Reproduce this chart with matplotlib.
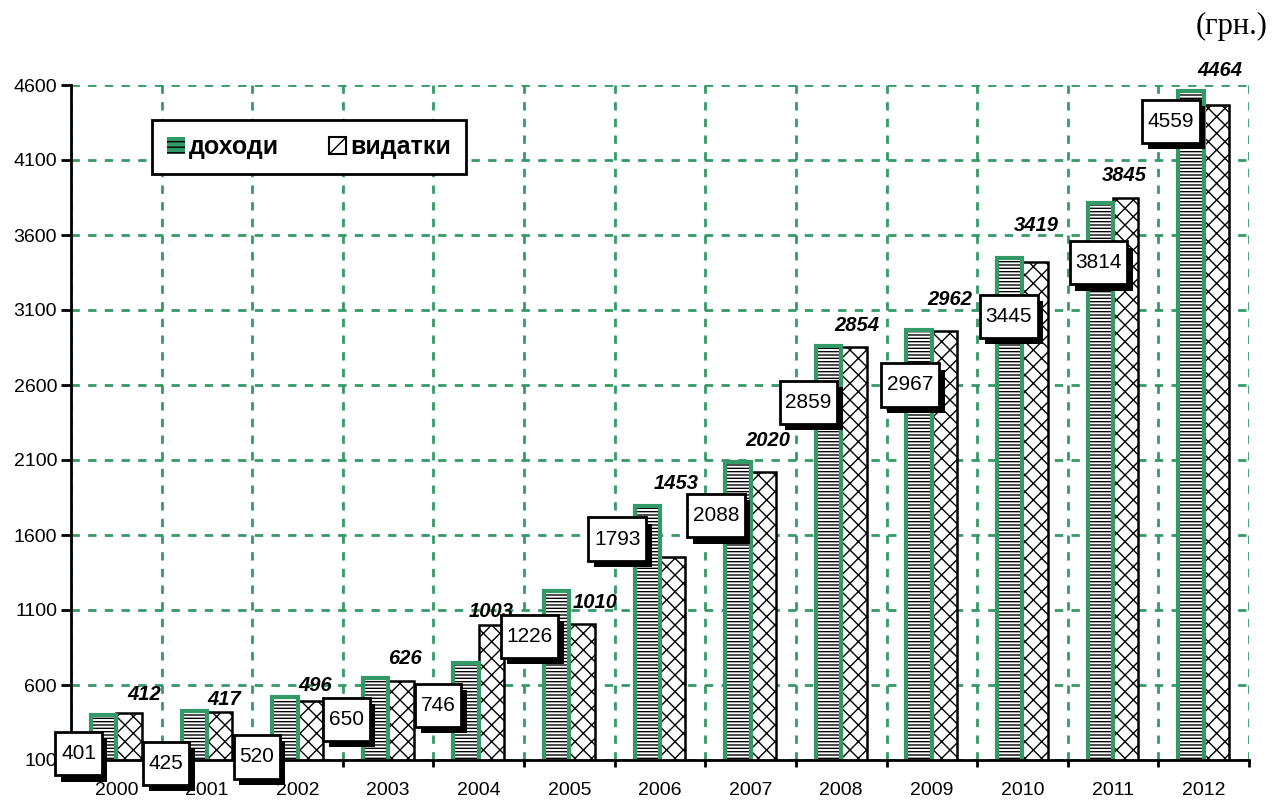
import numpy as np
import matplotlib
matplotlib.use("Agg")
import matplotlib.pyplot as plt
from matplotlib.patches import Patch
from matplotlib.path import Path
import matplotlib.patheffects as pe

plt.rcParams['font.family'] = ['Liberation Sans', 'DejaVu Sans']
plt.rcParams['hatch.linewidth'] = 1.0

# data
years = ['2000', '2001', '2002', '2003', '2004', '2005', '2006',
         '2007', '2008', '2009', '2010', '2011', '2012']
income = [401, 425, 520, 650, 746, 1226, 1793, 2088, 2859, 2967, 3445, 3814, 4559]
expenses = [412, 417, 496, 626, 1003, 1010, 1453, 2020, 2854, 2962, 3419, 3845, 4464]
yticks = list(range(100, 4601, 500))

# label placement (pixels, relative to bar top)
inc_dx = [-25, -28, -28, -29, -28, -27, -30, -22, -20, -9, -1, -2, -20]
inc_dy = [-39, -52, -60, -42, -42, -45, -33, -54, -56, -55, -58, -60, -30]
exp_dx = [15, 5, 5, 4, 0, 13, 3, 5, 3, 5, 1, -1, 3]
exp_dy = [19, 13, 15, 23, 13, 21, 74, 31, 21, 31, 37, 23, 35]

green = '#339966'
x = np.arange(len(years))
w = 0.28


def tall_box(x0, y0, width, height, mutation_scale):
    # square box with more padding top/bottom than left/right
    px = 0.27 * mutation_scale
    py = 0.58 * mutation_scale
    return Path([(x0 - px, y0 - py), (x0 + width + px, y0 - py),
                 (x0 + width + px, y0 + height + py), (x0 - px, y0 + height + py),
                 (x0 - px, y0 - py)], closed=True)


fig = plt.figure(figsize=(12.83, 8.01), dpi=100)
ax = fig.add_axes([71/1283, 1 - 760/801, (1249-71)/1283, (760-85)/801])

# income bars: hatch layer + green outline
ax.bar(x - w/2, income, w, bottom=0, color='white', edgecolor='black',
       hatch='-----', linewidth=0, zorder=3)
ax.bar(x - w/2, income, w, bottom=0, fill=False, edgecolor=green,
       linewidth=3, zorder=4)
# expenses
ax.bar(x + w/2, expenses, w, bottom=0, color='white', edgecolor='black',
       hatch='xx', linewidth=1.8, zorder=3)

ax.set_xlim(-0.5, len(years) - 0.5)
ax.set_ylim(100, 4600)
ax.set_yticks(yticks)
ax.set_xticks(x)
ax.set_xticklabels(years)
ax.set_xticks(np.arange(-0.5, len(years), 1), minor=True)

ax.tick_params(axis='y', which='major', direction='out', length=7, width=2,
               labelsize=14, pad=3)
ax.tick_params(axis='x', which='major', length=0, labelsize=14, pad=16)
ax.tick_params(axis='x', which='minor', direction='out', length=5, width=2)

ax.grid(axis='y', which='major', color=green, linestyle=(0, (3, 3)),
        linewidth=2, zorder=0)
ax.grid(axis='x', which='minor', color=green, linestyle=(0, (3, 3)),
        linewidth=2, zorder=0)
ax.set_axisbelow(True)

for side in ['top', 'right']:
    ax.spines[side].set_visible(False)
for side in ['left', 'bottom']:
    ax.spines[side].set_linewidth(2)
    ax.spines[side].set_zorder(6)

# income labels in shadowed boxes
for i, v in enumerate(income):
    t = ax.annotate(str(v), (x[i] - w/2, v), xytext=(inc_dx[i], inc_dy[i]),
                    textcoords='offset pixels', ha='center', va='center',
                    fontsize=15, zorder=8, annotation_clip=False,
                    bbox=dict(boxstyle=tall_box, fc='white', ec='black', lw=2))
    t.get_bbox_patch().set_path_effects(
        [pe.SimplePatchShadow(offset=(4, -4.5), shadow_rgbFace='black', alpha=1),
         pe.Normal()])

# expense labels
for i, v in enumerate(expenses):
    ax.annotate(str(v), (x[i] + w/2, v), xytext=(exp_dx[i], exp_dy[i]),
                textcoords='offset pixels', ha='center', va='center',
                fontsize=14.5, fontweight='bold', fontstyle='italic',
                zorder=7, annotation_clip=False)

handles = [Patch(facecolor=green, edgecolor='black', hatch='---', linewidth=0),
           Patch(facecolor='white', edgecolor='black', hatch='//', linewidth=1.5)]
leg = ax.legend(handles, ['доходи', 'видатки'], ncol=2, loc='upper left',
                bbox_to_anchor=(0.069, 0.948), frameon=True, fancybox=False,
                prop={'weight': 'bold', 'size': 18}, handlelength=0.7,
                handleheight=0.7, handletextpad=0.15, columnspacing=2.0,
                borderpad=0.6, borderaxespad=0)
leg.get_frame().set_edgecolor('black')
leg.get_frame().set_linewidth(2)
leg.get_frame().set_alpha(1)
leg.set_zorder(9)

fig.text(0.988, 0.967, '(грн.)', ha='right', va='center',
         family='Liberation Serif', fontsize=22)

fig.savefig('out.png', dpi=100)
